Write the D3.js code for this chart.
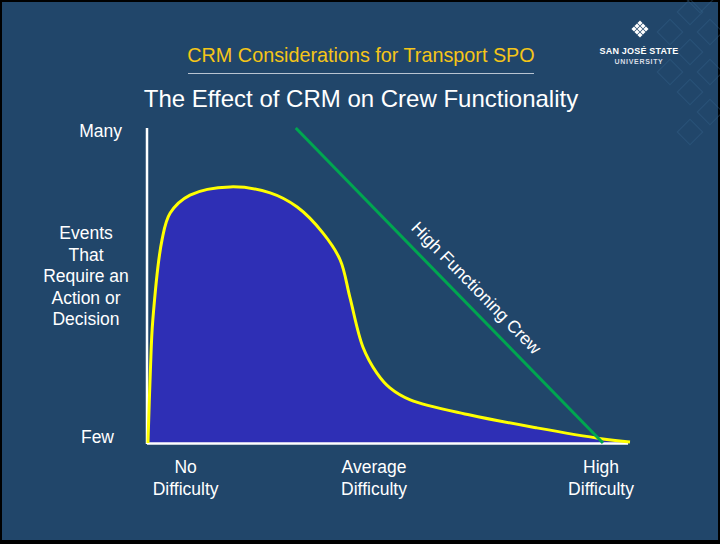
<!DOCTYPE html>
<html><head><meta charset="utf-8">
<script src="https://cdn.jsdelivr.net/npm/d3@7/dist/d3.min.js"></script>
<style>html,body{margin:0;padding:0;background:#000;}svg{display:block;}</style>
</head><body>
<svg id="c" width="720" height="544"></svg>
<script>
// ---- data ----
const titleTop = "CRM Considerations for Transport SPO";
const titleMain = "The Effect of CRM on Crew Functionality";
const yAxisTitle = ["Events", "That", "Require an", "Action or", "Decision"];
const xTickLabels = [{v:8, t:["No","Difficulty"]}, {v:47, t:["Average","Difficulty"]}, {v:94, t:["High","Difficulty"]}];
// typical crew curve (difficulty 0-100, events 0-100)
const curveX = [0.2, 0.7, 1.2, 3.1, 4.8, 8.9, 17.2, 25.5, 31.1, 36.4, 40, 42, 44.7, 47.6, 50.3, 54.5, 66.9, 80.7, 94.4, 100];
const curveY = [0, 23, 39, 64.4, 73, 78.7, 81.3, 79.4, 74.9, 66.7, 58.1, 46.3, 30.5, 22.2, 17.5, 13.7, 8.9, 4.8, 1.3, 0.3];
// high functioning crew line
const hfcX = [30.8, 94.4];
const hfcY = [100, 0];
const hfcLabel = "High Functioning Crew";

const svg = d3.select("#c");
const W = 720, H = 544;
const font = "'Liberation Sans', Arial, sans-serif";

// slide background with black border
svg.append("rect").attr("x",0).attr("y",0).attr("width",W).attr("height",H).attr("fill","#000");
svg.append("rect").attr("x",2).attr("y",2).attr("width",W-4).attr("height",H-6).attr("fill","#21466a");

// decorative diamond pattern top-right
const pat = svg.append("g").attr("stroke","#3a6690").attr("stroke-opacity",0.35).attr("fill","none").attr("stroke-width",1.2);
const dia = [[690,12],[710,32],[690,52],[670,72],[690,92],[710,72],[670,32],[710,112],[690,132],[700,0]];
dia.forEach(([cx,cy])=>{
  pat.append("rect").attr("x",cx-9).attr("y",cy-9).attr("width",18).attr("height",18)
    .attr("transform",`rotate(45 ${cx} ${cy})`);
});

// logo
const logo = svg.append("g");
const lg = logo.append("g").attr("transform","translate(640,29)").attr("fill","#fff");
[[0,-6],[-3,-3],[3,-3],[-6,0],[0,0],[6,0],[-3,3],[3,3],[0,6]].forEach(([dx,dy])=>{
  lg.append("rect").attr("x",dx-1.8).attr("y",dy-1.8).attr("width",3.6).attr("height",3.6)
    .attr("transform",`rotate(45 ${dx} ${dy})`);
});
logo.append("text").attr("x",639).attr("y",54).attr("text-anchor","middle").attr("fill","#fff")
  .attr("font-family",font).attr("font-weight","bold").attr("font-size",9).attr("letter-spacing",0.2).text("SAN JOSÉ STATE");
logo.append("text").attr("x",639).attr("y",64).attr("text-anchor","middle").attr("fill","#d8dde6")
  .attr("font-family",font).attr("font-weight","bold").attr("font-size",7).attr("letter-spacing",0.7).text("UNIVERSITY");

// titles
svg.append("text").attr("x",361).attr("y",62).attr("text-anchor","middle").attr("fill","#f5c518")
  .attr("font-family",font).attr("font-size",19.8).text(titleTop);
svg.append("line").attr("x1",188).attr("x2",534).attr("y1",73.5).attr("y2",73.5).attr("stroke","#b8c4d2").attr("stroke-width",1.2);
svg.append("text").attr("x",361).attr("y",107).attr("text-anchor","middle").attr("fill","#fff")
  .attr("font-family",font).attr("font-size",24).text(titleMain);

// scales
const x = d3.scaleLinear().domain([0,100]).range([147,630]);
const y = d3.scaleLinear().domain([0,100]).range([443,128]);

const pts = curveX.map((v,i)=>[v,curveY[i]]);

// area
const area = d3.area().x(d=>x(d[0])).y0(y(0)).y1(d=>y(d[1])).curve(d3.curveCatmullRom.alpha(0.5));
svg.append("path").datum([[0,0],...pts]).attr("d",area).attr("fill","#2e2fb5");

// axes (white)
svg.append("line").attr("x1",x(0)).attr("x2",x(0)).attr("y1",y(100)).attr("y2",y(0)+1).attr("stroke","#fff").attr("stroke-width",2.5);
svg.append("line").attr("x1",x(0)).attr("x2",x(99.6)).attr("y1",y(0)+0.5).attr("y2",y(0)+0.5).attr("stroke","#fff").attr("stroke-width",2.5);

// yellow curve
const line = d3.line().x(d=>x(d[0])).y(d=>y(d[1])).curve(d3.curveCatmullRom.alpha(0.5));
svg.append("path").datum(pts).attr("d",line).attr("fill","none").attr("stroke","#ffff00").attr("stroke-width",3);

// green line
svg.append("line").attr("x1",x(hfcX[0])).attr("y1",y(hfcY[0])).attr("x2",x(hfcX[1])).attr("y2",y(hfcY[1]))
  .attr("stroke","#00a650").attr("stroke-width",3);
const ang = Math.atan2(y(hfcY[1])-y(hfcY[0]), x(hfcX[1])-x(hfcX[0]))*180/Math.PI;
svg.append("text").attr("transform",`translate(472,292) rotate(${ang})`).attr("text-anchor","middle")
  .attr("fill","#fff").attr("font-family",font).attr("font-size",17.5).text(hfcLabel);

// y labels
svg.append("text").attr("x",122).attr("y",y(100)+9).attr("text-anchor","end").attr("fill","#fff")
  .attr("font-family",font).attr("font-size",17.5).text("Many");
svg.append("text").attr("x",114).attr("y",y(0)).attr("text-anchor","end").attr("fill","#fff")
  .attr("font-family",font).attr("font-size",17.5).text("Few");
const yt = svg.append("text").attr("text-anchor","middle").attr("fill","#fff").attr("font-family",font).attr("font-size",17.5);
yAxisTitle.forEach((s,i)=>yt.append("tspan").attr("x",86).attr("y",239+i*21.5).text(s));

// x labels
xTickLabels.forEach(d=>{
  const t = svg.append("text").attr("text-anchor","middle").attr("fill","#fff").attr("font-family",font).attr("font-size",17.5);
  d.t.forEach((s,i)=>t.append("tspan").attr("x",x(d.v)).attr("y",473+i*22).text(s));
});
</script>
</body></html>
